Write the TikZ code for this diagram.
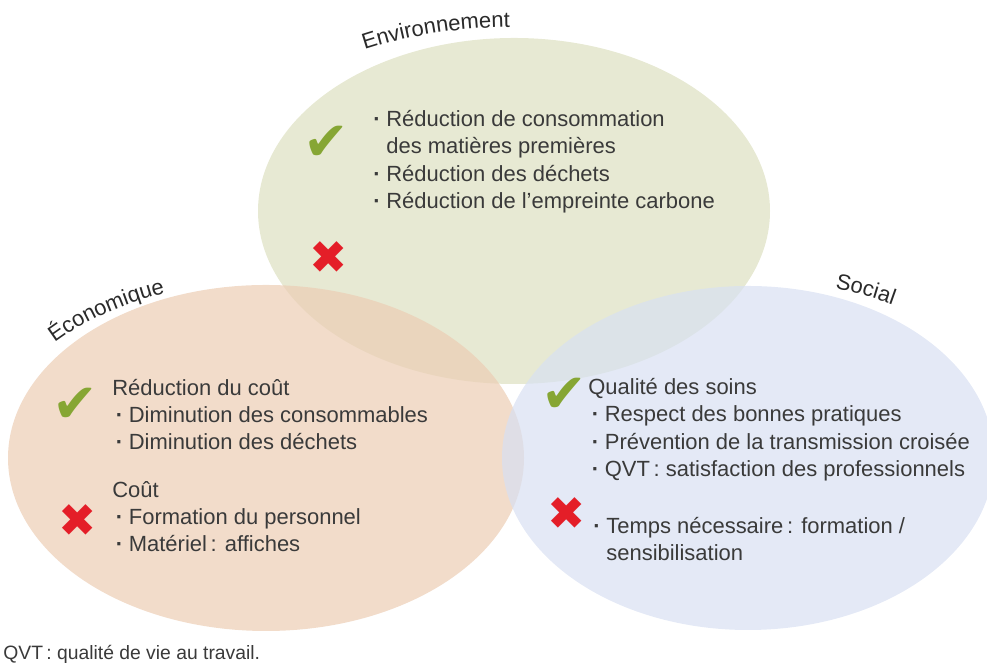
\documentclass[tikz,border=0pt]{standalone}
\usepackage{fontspec}
\setmainfont{Liberation Sans}
\newfontfamily\symfont{DejaVu Sans}
\usetikzlibrary{shapes.geometric,decorations.text}
\definecolor{envfill}{RGB}{221,224,192}
\definecolor{ecofill}{RGB}{236,205,180}
\definecolor{socfill}{RGB}{216,224,242}
\definecolor{txtgray}{HTML}{3A3A3A}
\definecolor{lblgray}{HTML}{2A2A2A}
\definecolor{okgreen}{RGB}{134,166,52}
\definecolor{kored}{RGB}{228,30,40}
\newcommand{\puce}{\makebox[7.4pt][l]{\textbf{·}}}
\newcommand{\suite}{\hspace*{7.4pt}}
\tikzset{
  zone/.style     = {ellipse, inner sep=0pt, fill opacity=0.7},
  itemtxt/.style  = {text=txtgray, inner sep=0pt, anchor=base west, align=left,
                     font=\fontsize{12.5}{15.6}\selectfont},
  okmark/.style   = {text=okgreen, inner sep=0pt, font=\symfont\fontsize{31}{31}\selectfont},
  komark/.style   = {text=kored, inner sep=0pt, font=\symfont\fontsize{26}{26}\selectfont},
  arclabel/.style = {decorate, decoration={text along path,
                     text={|\fontsize{12.5}{15}\selectfont\color{lblgray}|#1}}},
}
\begin{document}
\begin{tikzpicture}[x=1cm, y=1cm]
\useasboundingbox (0,0) rectangle (19.74,13.32);
% ---------------- the three zones ----------------
\node[zone, fill=envfill, minimum width=10.24cm, minimum height=6.92cm] (env) at (10.28,9.10) {};
\node[zone, fill=ecofill, minimum width=10.32cm, minimum height=6.92cm] (eco) at (5.32,4.16) {};
\node[zone, fill=socfill, minimum width=9.84cm, minimum height=6.88cm] (soc) at (14.96,4.16) {};
% ---------------- curved titles ----------------
\path[arclabel={Environnement}] ([shift={(119:6.16 and 3.68)}]env.center)
  arc[start angle=119, end angle=80, x radius=6.16, y radius=3.68];
\path[arclabel={Économique}] ([shift={(139.5:5.56 and 3.54)}]eco.center)
  arc[start angle=139.5, end angle=100, x radius=5.56, y radius=3.54];
\path[arclabel={Social}] ([shift={(72.3:5.73 and 3.55)}]soc.center)
  arc[start angle=72.3, end angle=40, x radius=5.73, y radius=3.55];
% ---------------- environnement ----------------
% (node base = baseline of the last line)
\node[okmark] (envok) at (6.52,10.46) {✔};
\node[komark] (envko) at (6.58,8.16) {✖};
\node[itemtxt] (envplus) at (7.46,9.15)
  {\puce Réduction de consommation\\
   \suite des matières premières\\
   \puce Réduction des déchets\\
   \puce Réduction de l’empreinte carbone};
% ---------------- economique ----------------
\node[okmark] (ecook) at (1.50,5.22) {✔};
\node[komark] (ecoko) at (1.56,2.90) {✖};
\node[itemtxt] (ecoplus) at (2.24,4.32)
  {Réduction du coût\\
   \hspace*{2pt}\puce Diminution des consommables\\
   \hspace*{2pt}\puce Diminution des déchets};
\node[itemtxt] (ecomoins) at (2.24,2.28)
  {Coût\\
   \hspace*{2pt}\puce Formation du personnel\\
   \hspace*{2pt}\puce Matériel\,: affiches};
% ---------------- social ----------------
\node[okmark] (socok) at (11.28,5.42) {✔};
\node[komark] (socko) at (11.34,3.04) {✖};
\node[itemtxt] (socplus) at (11.76,3.79)
  {Qualité des soins\\
   \hspace*{2pt}\puce Respect des bonnes pratiques\\
   \hspace*{2pt}\puce Prévention de la transmission croisée\\
   \hspace*{2pt}\puce QVT\,: satisfaction des professionnels};
\node[itemtxt] (socmoins) at (11.86,2.11)
  {\puce Temps nécessaire\,: formation /\\
   \suite sensibilisation};
% ---------------- note ----------------
\node[itemtxt, font=\fontsize{11}{13}\selectfont] (note) at (0.06,0.12)
  {QVT\,: qualité de vie au travail.};
\end{tikzpicture}
\end{document}
